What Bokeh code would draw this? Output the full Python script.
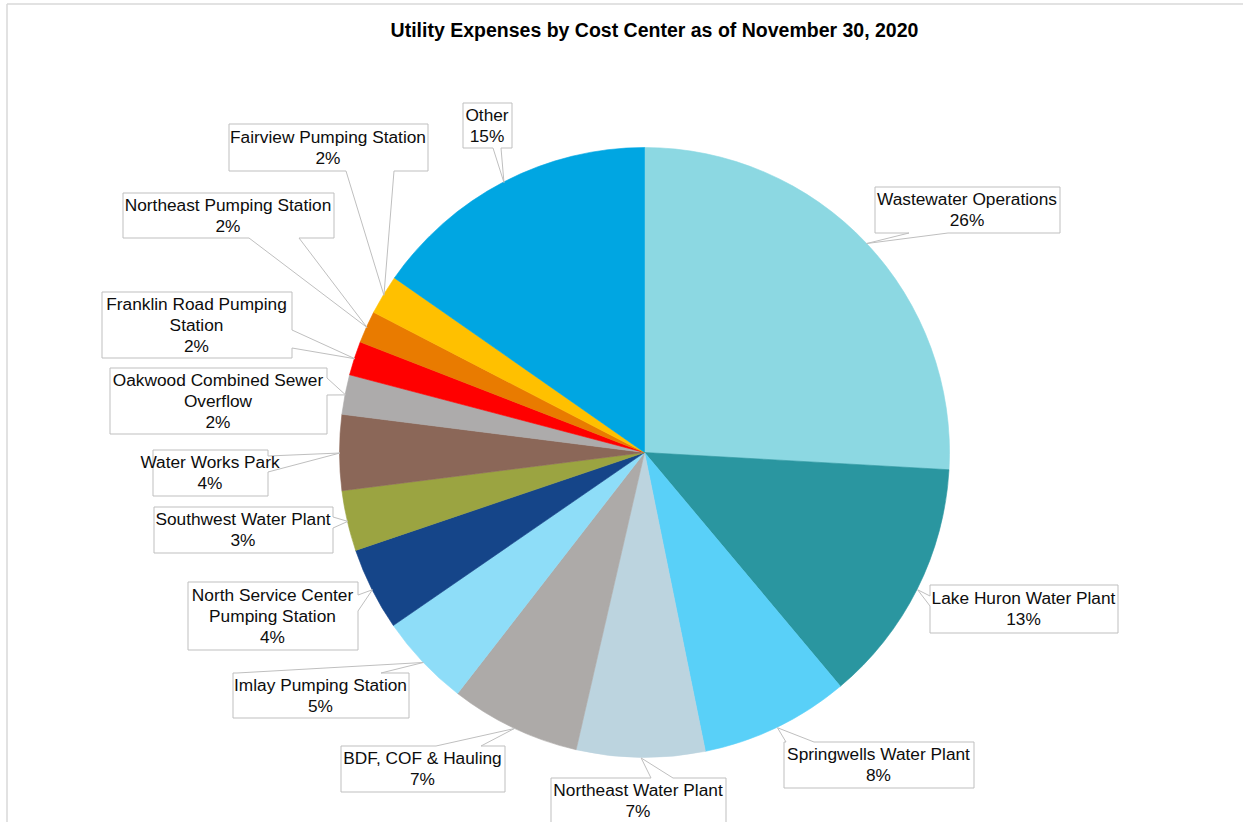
import math
import numpy as np
from bokeh.plotting import figure
from bokeh.models import Range1d
from bokeh.core.properties import value
from bokeh.embed import file_html
from bokeh.resources import INLINE

# ---------------- data ----------------
title = "Utility Expenses by Cost Center as of November 30, 2020"
categories = [
    "Wastewater Operations", "Lake Huron Water Plant", "Springwells Water Plant",
    "Northeast Water Plant", "BDF, COF & Hauling", "Imlay Pumping Station",
    "North Service Center Pumping Station", "Southwest Water Plant",
    "Water Works Park", "Oakwood Combined Sewer Overflow",
    "Franklin Road Pumping Station", "Northeast Pumping Station",
    "Fairview Pumping Station", "Other",
]
values = [25.9, 13.0, 7.9, 6.8, 6.9, 4.9, 4.4, 3.2, 4.0, 2.1, 1.8, 1.7, 2.1, 15.3]
colors = ["#8CD8E2", "#2A96A0", "#59D0F8", "#BCD4DF", "#ADAAA8", "#8EDDF8",
          "#154589", "#9BA441", "#8B6758", "#ADABAB", "#FF0000", "#E97B00",
          "#FFC000", "#00A6E2"]

# label wrapping as shown in the chart
wrapped = {
    "North Service Center Pumping Station": ["North Service Center", "Pumping Station"],
    "Oakwood Combined Sewer Overflow": ["Oakwood Combined Sewer", "Overflow"],
    "Franklin Road Pumping Station": ["Franklin Road Pumping", "Station"],
}

# ---------------- layout (image pixel coordinates) ----------------
W, H = 1243, 822
CX, CY, R = 644, 452, 305
# callout boxes: left, top, right, bottom, side of pointer, pointer base start/end
boxes = [
    (874, 186, 1059, 232, "bottom", 908, 947),
    (929, 584, 1117, 632, "left", 595, 605),
    (783, 741, 973, 787, "top", 785, 813),
    (550, 777, 725, 823, "top", 650, 672),
    (340, 745, 504, 791, "top", 435, 480),
    (232, 672, 408, 717, "top", 236, 380),
    (187, 581, 357, 649, "right", 594, 610),
    (153, 506, 332, 552, "right", 516, 527),
    (152, 449, 267, 495, "right", 455, 471),
    (109, 367, 326, 433, "right", 377, 394),
    (101, 291, 291, 357, "right", 329, 347),
    (122, 192, 333, 237, "bottom", 248, 298),
    (228, 123, 427, 170, "bottom", 345, 393),
    (462, 102, 511, 147, "bottom", 492, 500),
]

FONT = "Liberation Sans"

p = figure(width=W, height=H,
           x_range=Range1d(0, W), y_range=Range1d(-H, 0),
           output_backend="svg", toolbar_location=None, min_border=0,
           x_axis_location=None, y_axis_location=None)
p.grid.visible = False
p.outline_line_color = None
p.background_fill_color = "white"
p.border_fill_color = "white"

# faint chart frame (left & top)
p.segment(x0=[6.5, 6.5], y0=[-3.5, -3.5], x1=[6.5, W], y1=[-H, -3.5],
          line_color="#D9D9D9", line_width=1.5)

# ---------------- pie ----------------
vals = np.array(values, dtype=float)
frac = vals / vals.sum()
cum_end = np.cumsum(frac)
cum_start = cum_end - frac
theta_s = 2 * np.pi * cum_start
theta_e = 2 * np.pi * cum_end

p.wedge(x=CX, y=-CY, radius=R,
        start_angle=list(np.pi / 2 - theta_s), end_angle=list(np.pi / 2 - theta_e),
        direction="clock", fill_color=colors, line_color=colors, line_width=0.6)

# ---------------- callouts ----------------
xs_all, ys_all = [], []
tx, ty, tt = [], [], []
for i, name in enumerate(categories):
    L, T, Rr, B, side, b0, b1 = boxes[i]
    mid = (theta_s[i] + theta_e[i]) / 2
    tipx = CX + R * math.sin(mid)
    tipy = CY - R * math.cos(mid)
    if side == "top":
        pts = [(L, T), (b0, T), (tipx, tipy), (b1, T), (Rr, T), (Rr, B), (L, B)]
    elif side == "bottom":
        pts = [(L, T), (Rr, T), (Rr, B), (b1, B), (tipx, tipy), (b0, B), (L, B)]
    elif side == "right":
        pts = [(L, T), (Rr, T), (Rr, b0), (tipx, tipy), (Rr, b1), (Rr, B), (L, B)]
    else:
        pts = [(L, T), (Rr, T), (Rr, B), (L, B), (L, b1), (tipx, tipy), (L, b0)]
    xs_all.append([q[0] + 0.5 for q in pts])
    ys_all.append([-(q[1] + 0.5) for q in pts])

    lines = wrapped.get(name, [name]) + [f"{round(frac[i] * 100):.0f}%"]
    n = len(lines)
    cxl = (L + Rr) / 2
    cyl = (T + B) / 2
    for k, ln in enumerate(lines):
        tx.append(cxl)
        ty.append(-(cyl + (k - (n - 1) / 2) * 21))
        tt.append(ln)

p.patches(xs=xs_all, ys=ys_all, fill_color="white", line_color="#BFBFBF", line_width=1)
p.text(x=tx, y=ty, text=tt, text_align="center", text_baseline="middle",
       text_font=value(FONT), text_font_size="17.3px", text_color="#0D0D0D")

# ---------------- title ----------------
p.text(x=[654], y=[-29], text=[title], text_align="center", text_baseline="middle",
       text_font=value(FONT), text_font_size="19.5px", text_font_style="bold",
       text_color="#000000")

open("out.html", "w").write(file_html(p, INLINE))
